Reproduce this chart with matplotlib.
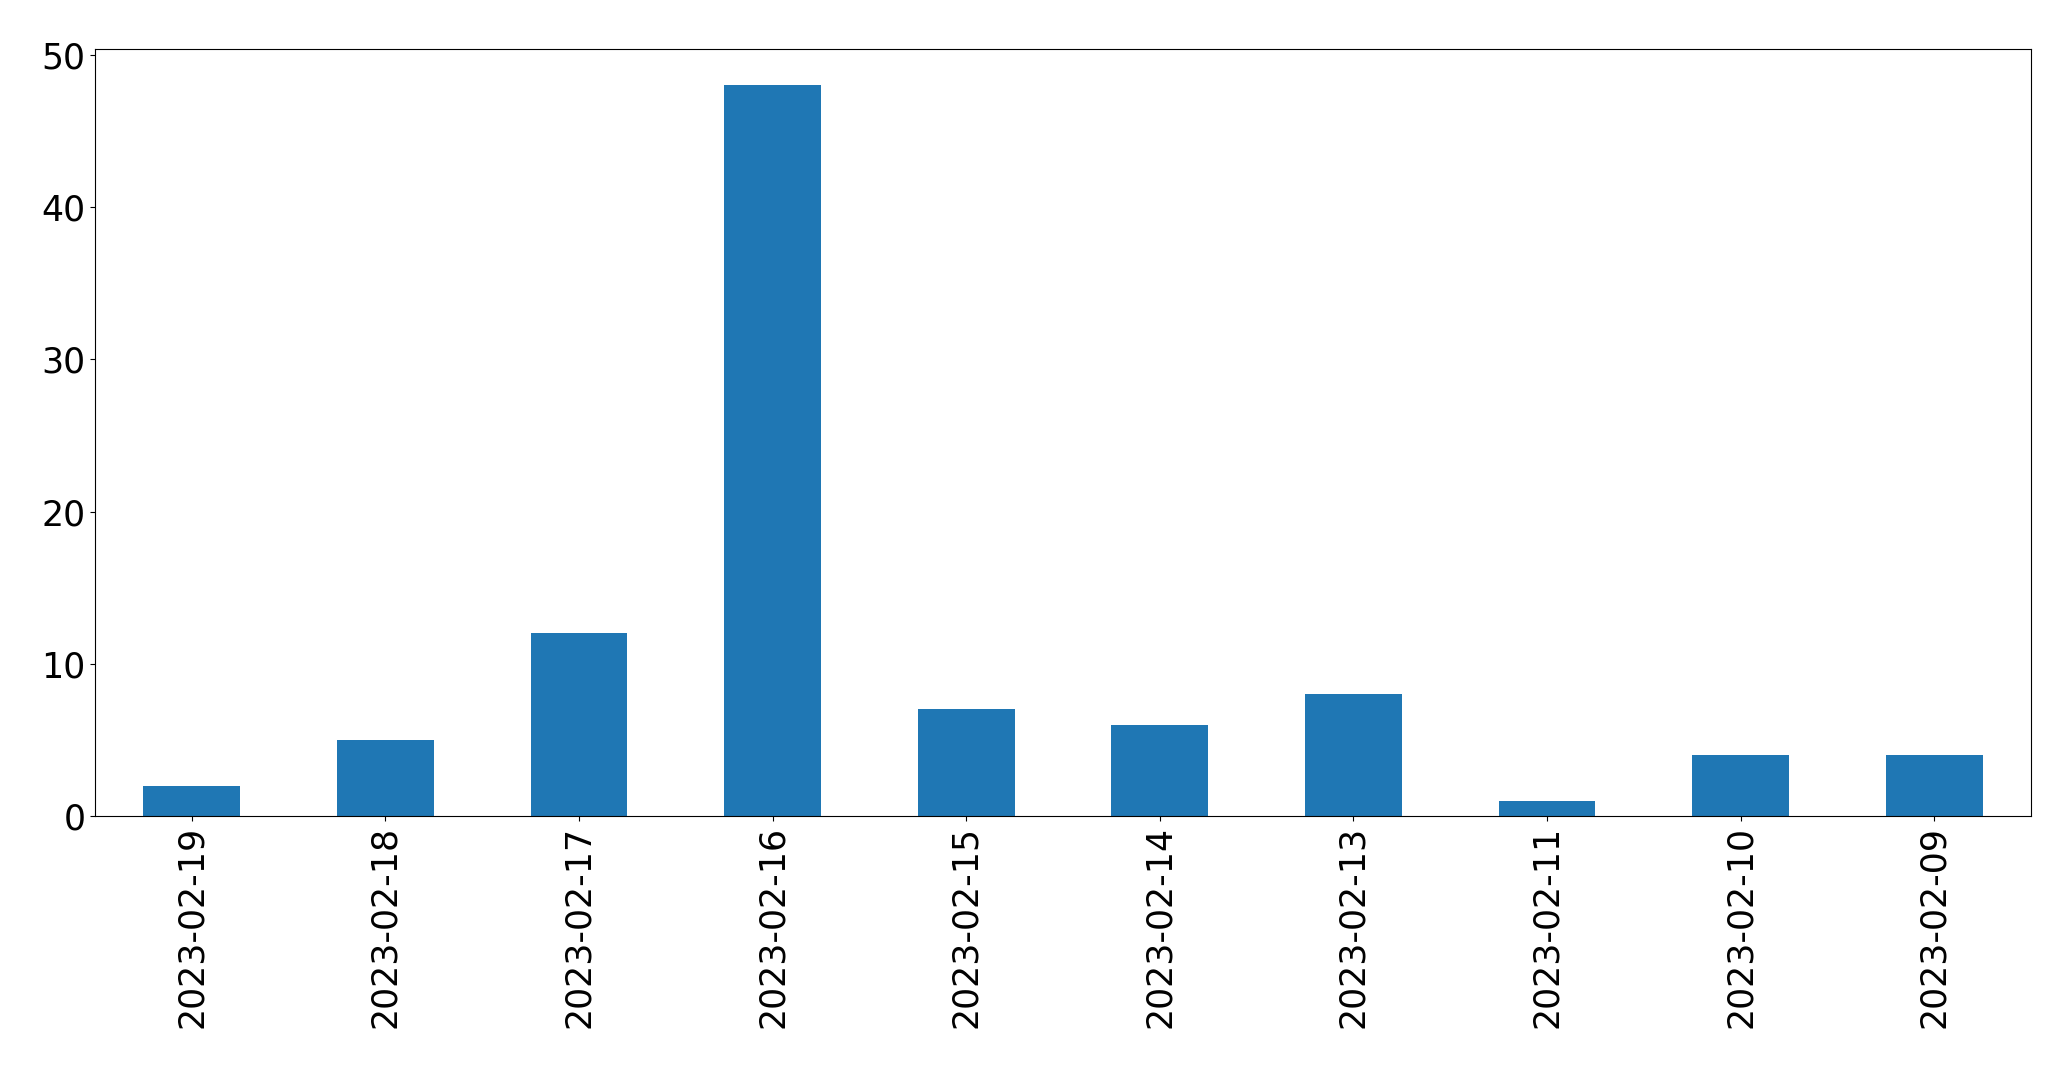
import matplotlib
matplotlib.use('Agg')
import matplotlib.pyplot as plt
import pandas as pd

dates = ['2023-02-19', '2023-02-18', '2023-02-17', '2023-02-16', '2023-02-15',
         '2023-02-14', '2023-02-13', '2023-02-11', '2023-02-10', '2023-02-09']
counts = [2, 5, 12, 48, 7, 6, 8, 1, 4, 4]

s = pd.Series(counts, index=dates)

fig = plt.figure(figsize=(20.71, 10.69), dpi=100)
ax = fig.add_axes([0.0459, 0.2367, 0.9348, 0.7175])
s.plot.bar(ax=ax, color='#1f77b4')
ax.tick_params(axis='both', labelsize=25)
fig.savefig('out.png', dpi=100)
